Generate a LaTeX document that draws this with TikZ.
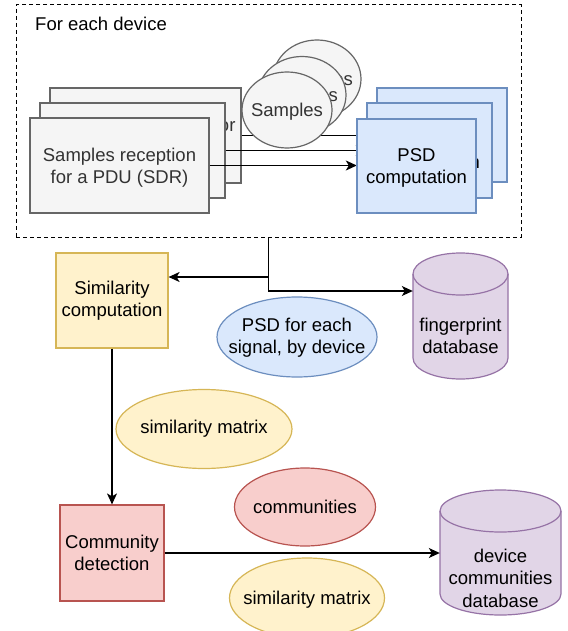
\documentclass[tikz,border=0pt]{standalone}
\usepackage{fontspec}
\setmainfont{Liberation Sans}
\usetikzlibrary{shapes.geometric,arrows.meta,calc}
\definecolor{grayfill}{HTML}{F5F5F5}
\definecolor{graystroke}{HTML}{666666}
\definecolor{graytext}{HTML}{333333}
\definecolor{bluefill}{HTML}{DAE8FC}
\definecolor{bluestroke}{HTML}{6C8EBF}
\definecolor{yellowfill}{HTML}{FFF2CC}
\definecolor{yellowstroke}{HTML}{D6B656}
\definecolor{redfill}{HTML}{F8CECC}
\definecolor{redstroke}{HTML}{B85450}
\definecolor{purplefill}{HTML}{E1D5E7}
\definecolor{purplestroke}{HTML}{9673A6}
\newcommand\dbcyl[6]{% style, x1,y1,x2,y2,ry
  \pgfmathsetmacro\cylrx{(#4-#2)/2}
  \draw[#1] (#2,#3+#6) arc[start angle=180,end angle=0,x radius=\cylrx pt,y radius=#6pt]
     -- (#4,#5-#6) arc[start angle=0,end angle=-180,x radius=\cylrx pt,y radius=#6pt] -- cycle;
  \draw[#1,fill=none] (#2,#3+#6) arc[start angle=180,end angle=360,x radius=\cylrx pt,y radius=#6pt];
}
\tikzset{
  shp/.style={draw, line width=1.2pt, align=center, inner sep=0pt, text=black},
  graybox/.style={shp, rectangle, fill=grayfill, draw=graystroke, text=graytext},
  bluebox/.style={shp, rectangle, fill=bluefill, draw=bluestroke},
  yellowbox/.style={shp, rectangle, fill=yellowfill, draw=yellowstroke},
  redbox/.style={shp, rectangle, fill=redfill, draw=redstroke},
  grayell/.style={shp, ellipse, fill=grayfill, draw=graystroke},
  blueell/.style={shp, ellipse, fill=bluefill, draw=bluestroke},
  yellowell/.style={shp, ellipse, fill=yellowfill, draw=yellowstroke},
  redell/.style={shp, ellipse, fill=redfill, draw=redstroke},
  cylst/.style={line width=1.2pt, fill=purplefill, draw=purplestroke},
  plain/.style={inner sep=0pt, align=center, text=black},
  graytxt/.style={plain, text=graytext},
  arr/.style={line width=1.3pt, draw=black, -{Stealth[length=11pt,width=10pt,inset=3pt]}},
  container/.style={draw=black, line width=1pt, dash pattern=on 4pt off 3pt, rectangle, inner sep=0pt}
}
\begin{document}
\begin{tikzpicture}[x=1pt,y=-1pt,font=\fontsize{18.5}{22.4}\selectfont]
\clip (0,0) rectangle (567,631);
\fill[white] (0,0) rectangle (567,631);

% container
\node[container, minimum width=505pt, minimum height=232pt] (dev) at (268.5,121) {};
\node[plain, anchor=west] (devlabel) at (35,24) {For each device};

% gray stack
\node[graybox, minimum width=191pt, minimum height=95pt] (gb) at (145.5,135.5) {};
\node[graytxt] (gbt) at (145.5,138) {Samples reception for\\a PDU (SDR)};
\node[graybox, minimum width=185pt, minimum height=95pt] (gm) at (132.5,150.5) {};
\node[graytxt] (gmt) at (132.5,153) {Samples reception\\for a PDU (SDR)};
\node[graybox, minimum width=179pt, minimum height=95pt] (gf) at (119.5,165.5) {};
\node[graytxt] (gft) at (119.5,168) {Samples reception\\for a PDU (SDR)};

% PSD stack positions (arrow targets)
\node[minimum width=130pt, minimum height=94pt, inner sep=0pt] (pb) at (442,135) {};
\node[minimum width=125pt, minimum height=95pt, inner sep=0pt] (pm) at (429.5,150.5) {};
\node[minimum width=119pt, minimum height=94pt, inner sep=0pt] (pf) at (416.5,166) {};

% arrows between stacks
\draw[arr] (gb.east) -- (gb.east -| pb.west);
\draw[arr] (gm.east) -- (gm.east -| pm.west);
\draw[arr] (gf.east) -- (gf.east -| pf.west);

% samples ellipses
\node[grayell, minimum width=88pt, minimum height=78pt] (sb) at (317,79) {};
\node[graytxt] (sbt) at (317,81) {Samples};
\node[grayell, minimum width=88pt, minimum height=77pt] (sm) at (302,95) {};
\node[graytxt] (smt) at (302,97) {Samples};
\node[grayell, minimum width=90pt, minimum height=76pt] (sf) at (287,110) {};
\node[graytxt] (sft) at (287,112) {Samples};

% PSD boxes drawn
\node[bluebox, minimum width=130pt, minimum height=94pt] (pbd) at (pb) {};
\node[plain] (pbt) at (442,137) {PSD\\computation};
\node[bluebox, minimum width=125pt, minimum height=95pt] (pmd) at (pm) {};
\node[plain] (pmt) at (429.5,152.5) {PSD\\computation};
\node[bluebox, minimum width=119pt, minimum height=94pt] (pfd) at (pf) {};
\node[plain] (pft) at (416.5,168) {PSD\\computation};

% lower part
\node[yellowbox, minimum width=112pt, minimum height=95pt] (sim) at (112,300.5) {Similarity\\computation};
\node[redbox, minimum width=104pt, minimum height=96pt] (com) at (112,553) {Community\\detection};

\dbcyl{cylst}{413}{253}{508}{379}{21}
\node[minimum width=95pt, minimum height=126pt, inner sep=0pt] (fp) at (460.5,316) {};
\node[plain] (fptext) at (460.5,336) {fingerprint\\database};

\dbcyl{cylst}{440}{490}{561}{615}{21}
\node[minimum width=121pt, minimum height=125pt, inner sep=0pt] (dc) at (500.5,552.5) {};
\node[plain] (dctext) at (500.5,578) {device\\communities\\database};

\node[blueell, minimum width=160pt, minimum height=80pt] (psdell) at (297,337) {};
\node[plain] (psdtext) at (297,338) {PSD for each\\signal, by device};
\node[yellowell, minimum width=176pt, minimum height=79pt] (sm1) at (204,429) {};
\node[plain] (sm1t) at (204,429) {similarity matrix};
\node[redell, minimum width=141pt, minimum height=78pt] (commell) at (305,507) {};
\node[plain] (commt) at (305,507) {communities};
\node[yellowell, minimum width=155pt, minimum height=80pt] (sm2) at (307,598) {};
\node[plain] (sm2t) at (307,600) {similarity matrix};

% connectors
\draw[arr] (dev.south) |- ([yshift=23.5pt]sim.east);
\draw[arr] (dev.south) |- ([yshift=25pt]fp.west);
\draw[arr] (sim.south) -- (com.north);
\draw[arr] (com.east) -- (com.east -| dc.west);
\end{tikzpicture}
\end{document}
